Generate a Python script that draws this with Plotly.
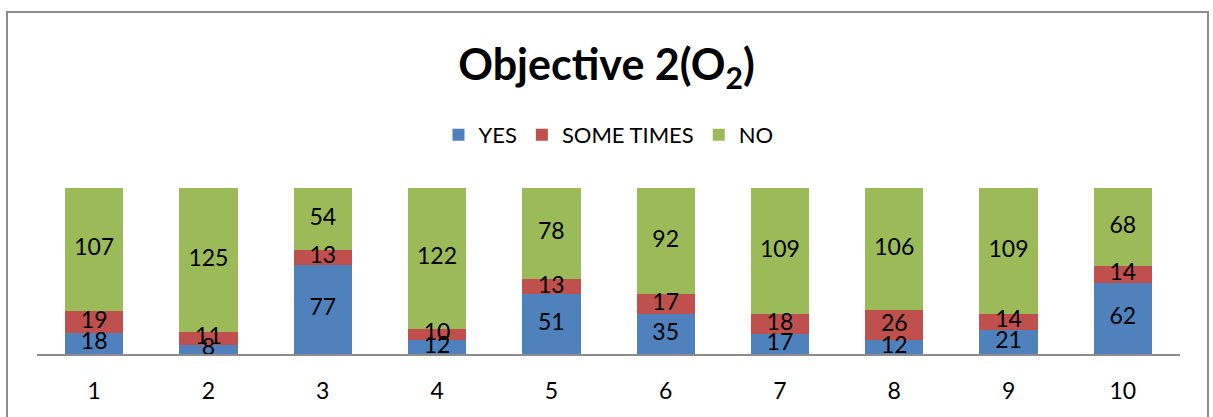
import plotly.graph_objects as go

categories = ["1", "2", "3", "4", "5", "6", "7", "8", "9", "10"]
yes_vals = [18, 8, 77, 12, 51, 35, 17, 12, 21, 62]
some_vals = [19, 11, 13, 10, 13, 17, 18, 26, 14, 14]
no_vals = [107, 125, 54, 122, 78, 92, 109, 106, 109, 68]

series = [
    ("YES", yes_vals, "#4F81BD"),
    ("SOME TIMES", some_vals, "#C0504D"),
    ("NO", no_vals, "#9BBB59"),
]

FONT = "Lato"
fig = go.Figure()
totals = [a + b + c for a, b, c in zip(yes_vals, some_vals, no_vals)]
base = [0.0] * len(categories)
label_x, label_y, label_t = [], [], []
for name, vals, color in series:
    fig.add_trace(go.Bar(
        x=categories, y=vals, name=name,
        marker=dict(color=color, line=dict(width=0)),
        hoverinfo="skip",
    ))
    for i, v in enumerate(vals):
        label_x.append(categories[i])
        label_y.append((base[i] + v / 2) / totals[i] * 100)
        label_t.append(str(v))
        base[i] += v

fig.add_trace(go.Scatter(
    x=label_x, y=label_y, text=label_t, mode="text",
    textposition="middle center",
    textfont=dict(family=FONT, size=23, color="black"),
    cliponaxis=False, showlegend=False, hoverinfo="skip",
))

W, H = 1213, 417
fig.update_layout(
    width=W, height=H,
    barmode="stack", barnorm="percent", bargap=0.49,
    paper_bgcolor="white", plot_bgcolor="white",
    margin=dict(l=37, r=33, t=188, b=63),
    title=dict(
        text="<b>Objective 2(O<sub>2</sub>)</b>",
        x=0.5, xanchor="center", y=1 - 65 / H, yanchor="middle",
        font=dict(family=FONT, size=43, color="black"),
        automargin=False,
    ),
    legend=dict(
        orientation="h", x=0.5, xanchor="center", y=1 - 135 / H, yref="container",
        yanchor="middle",
        font=dict(family=FONT, size=22, color="black"),
        itemwidth=30, traceorder="normal",
    ),
    xaxis=dict(
        showline=True, linecolor="#8C8C8C", linewidth=2,
        showgrid=False, ticks="", ticklabelstandoff=15, automargin=False,
        tickfont=dict(family=FONT, size=23, color="black"),
    ),
    yaxis=dict(range=[0, 100], visible=False, showgrid=False, automargin=False),
    shapes=[dict(
        type="rect", xref="paper", yref="paper",
        x0=-30 / 1143, x1=(1208 - 37) / 1143,
        y0=-1.0, y1=(354 - 12) / 166,
        line=dict(color="#8C8C8C", width=2), fillcolor="rgba(0,0,0,0)",
        layer="below",
    )],
    showlegend=True,
)

fig.write_html("out.html", config={"displayModeBar": False},
               post_script="document.body.style.margin='0';")
